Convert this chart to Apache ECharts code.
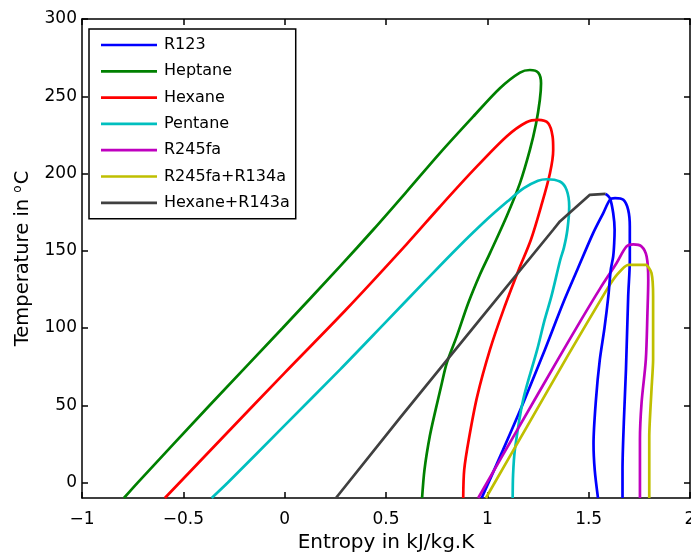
<!DOCTYPE html>
<html>
<head>
<meta charset="utf-8">
<script src="https://cdn.jsdelivr.net/npm/echarts@6/dist/echarts.min.js"></script>
<style>
  html, body { margin: 0; padding: 0; background: #fff; }
  #chart { width: 691px; height: 553px; }
</style>
</head>
<body>
<div id="chart"></div>
<script>
// Saturation domes in the T-s plane: entropy (kJ/kg.K) and temperature (°C)
// for each working fluid, traced from the liquid side over the top to the vapour side.
const r123S = [0.972, 1.078, 1.177, 1.284, 1.374, 1.444, 1.522, 1.572, 1.605, 1.630, 1.671, 1.695, 1.703, 1.703, 1.695, 1.684, 1.674, 1.667, 1.667];
const r123T = [-10, 21.3, 51.5, 86, 116.2, 137.7, 161.4, 174.4, 183, 184.1, 183, 176.5, 165.7, 144.2, 120.5, 73.1, 40.7, 8.4, -10];

const heptaneS = [-0.793, -0.725, -0.37, -0.01, 0.273, 0.437, 0.602, 0.766, 0.930, 1.062, 1.161, 1.210, 1.251, 1.265, 1.259, 1.240, 1.210, 1.161, 1.095, 1.013, 0.963, 0.906, 0.849, 0.800, 0.772, 0.745, 0.716, 0.690, 0.678];
const heptaneT = [-10, 0, 50, 100, 139.9, 163.6, 188.3, 213.2, 236.8, 255.2, 265.3, 267, 265.3, 258.4, 247.6, 232, 215.3, 193.8, 172.2, 148.5, 134.5, 116.2, 94.6, 77.4, 62.3, 47.2, 29.9, 8.4, -10];

const hexaneS = [-0.591, -0.3, 0.0, 0.3, 0.6, 0.766, 0.930, 1.095, 1.193, 1.251, 1.300, 1.322, 1.325, 1.309, 1.265, 1.215, 1.155, 1.080, 1.013, 0.950, 0.910, 0.886, 0.881];
const hexaneT = [-10, 30, 71, 111.5, 154, 178.5, 202, 224, 233.2, 234.7, 232.6, 224, 215.3, 200.2, 178.6, 157.1, 137.7, 111.9, 86, 55.8, 29, 8.4, -10];

const pentaneS = [-0.360, -0.28, 0.0, 0.273, 0.5, 0.700, 0.85, 1.0, 1.1, 1.18, 1.25, 1.292, 1.358, 1.391, 1.404, 1.395, 1.378, 1.360, 1.316, 1.283, 1.246, 1.177, 1.136, 1.127, 1.125];
const pentaneT = [-10, 0, 37, 73.1, 104, 131.3, 151.5, 170.5, 182, 190.5, 195.3, 196.3, 194.8, 189.4, 178.6, 163.6, 152, 144.2, 120.5, 105.4, 86, 53.7, 21.3, 5, -10];

const r245faS = [0.955, 1.15, 1.35, 1.457, 1.556, 1.638, 1.687, 1.720, 1.761, 1.786, 1.794, 1.790, 1.782, 1.761, 1.753, 1.753];
const r245faT = [-10, 34.6, 80, 104, 125.5, 142.1, 152.8, 154.1, 152.8, 146.3, 131.3, 109.7, 79.5, 51.5, 27.8, -10];

const r245faR134aS = [0.993, 1.2, 1.4, 1.588, 1.640, 1.695, 1.782, 1.810, 1.818, 1.818, 1.810, 1.799, 1.799];
const r245faR134aT = [-10, 37.2, 82.8, 124.5, 134.5, 140.9, 140.9, 135.6, 120.5, 79.5, 60, 29.9, -10];

// Hexane+R143a: bubble line (grey) and its dew line (drawn in blue)
const hexR143aBubbleS = [0.253, 0.569, 0.963, 1.325, 1.358, 1.506, 1.584];
const hexR143aBubbleT = [-10, 41.8, 105.4, 163.6, 169, 186.2, 186.8];
const hexR143aDewS = [1.584, 1.605, 1.621, 1.628, 1.626, 1.621, 1.609, 1.597, 1.578, 1.555, 1.536, 1.524, 1.530, 1.546];
const hexR143aDewT = [186.8, 184, 174.4, 163.6, 155, 146.3, 137.7, 120.5, 100, 79.5, 53.7, 25, 8, -10];

const legendNames = ['R123', 'Heptane', 'Hexane', 'Pentane', 'R245fa', 'R245fa+R134a', 'Hexane+R143a'];
const xTicks = [-1, -0.5, 0, 0.5, 1, 1.5, 2];
const yTicks = [0, 50, 100, 150, 200, 250, 300];

const FONT = 'DejaVu Sans';
const zip = (s, t) => s.map((v, i) => [v, t[i]]);

function curve(name, color, s, t, smooth) {
  return {
    name: name,
    type: 'line',
    data: zip(s, t),
    showSymbol: false,
    symbol: 'none',
    smooth: smooth,
    clip: true,
    lineStyle: { color: color, width: 2.7 },
    itemStyle: { color: color },
    emphasis: { disabled: true }
  };
}

const minusFmt = v => String(v).replace('-', '\u2212');

const chart = echarts.init(document.getElementById('chart'), null, { renderer: 'canvas' });

const boxAxisCommon = {
  axisLine: { show: true, onZero: false, lineStyle: { color: '#000', width: 1.5 } },
  axisTick: { show: true, inside: true, length: 6, lineStyle: { color: '#000', width: 1.5 } },
  splitLine: { show: false }
};

chart.setOption({
  animation: false,
  backgroundColor: '#fff',
  grid: { left: 82, right: 1, top: 19, bottom: 55, containLabel: false, outerBoundsMode: 'none' },
  legend: {
    data: legendNames,
    orient: 'vertical',
    left: 89,
    top: 29,
    padding: [6, 6, 6, 12],
    itemGap: 6.3,
    itemWidth: 56,
    itemHeight: 2.7,
    icon: 'rect',
    borderColor: '#000',
    borderWidth: 1.5,
    backgroundColor: '#fff',
    textStyle: { fontFamily: FONT, fontSize: 16, color: '#000', lineHeight: 20, padding: [0, 0, 0, 2] }
  },
  xAxis: [
    Object.assign({}, boxAxisCommon, {
      type: 'value', position: 'bottom', min: -1, max: 2, interval: 0.5,
      name: 'Entropy in kJ/kg.K', nameLocation: 'middle', nameGap: 34,
      nameTextStyle: { fontFamily: FONT, fontSize: 20, color: '#000' },
      axisLabel: { show: true, margin: 13, fontFamily: FONT, fontSize: 17, color: '#000', formatter: minusFmt, customValues: xTicks },
      axisTick: Object.assign({}, boxAxisCommon.axisTick, { customValues: xTicks })
    }),
    Object.assign({}, boxAxisCommon, {
      type: 'value', position: 'top', min: -1, max: 2, interval: 0.5,
      axisLabel: { show: false }
    })
  ],
  yAxis: [
    Object.assign({}, boxAxisCommon, {
      type: 'value', position: 'left', min: -10, max: 300,
      name: 'Temperature in {sup|o}C', nameLocation: 'middle', nameGap: 47,
      nameTextStyle: {
        fontFamily: FONT, fontSize: 19.5, color: '#000', lineHeight: 22,
        rich: { sup: { fontFamily: FONT, fontSize: 12, color: '#000', verticalAlign: 'top', lineHeight: 12, padding: [0, 1, 0, 0] } }
      },
      axisLabel: { show: true, margin: 5, fontFamily: FONT, fontSize: 17, color: '#000', customValues: yTicks },
      axisTick: Object.assign({}, boxAxisCommon.axisTick, { customValues: yTicks })
    }),
    Object.assign({}, boxAxisCommon, {
      type: 'value', position: 'right', min: -10, max: 300,
      axisLabel: { show: false },
      axisTick: Object.assign({}, boxAxisCommon.axisTick, { customValues: yTicks })
    })
  ],
  series: [
    curve('R123', '#0000ff', r123S, r123T, 0.3),
    curve('Heptane', '#008000', heptaneS, heptaneT, 0.3),
    curve('Hexane', '#ff0000', hexaneS, hexaneT, 0.3),
    curve('Pentane', '#00bfbf', pentaneS, pentaneT, 0.3),
    curve('R245fa', '#bf00bf', r245faS, r245faT, 0.3),
    curve('R245fa+R134a', '#bfbf00', r245faR134aS, r245faR134aT, 0.2),
    curve('Hexane+R143a', '#404040', hexR143aBubbleS, hexR143aBubbleT, false),
    curve('Hexane+R143a dew', '#0000ff', hexR143aDewS, hexR143aDewT, 0.3)
  ]
});
</script>
</body>
</html>
